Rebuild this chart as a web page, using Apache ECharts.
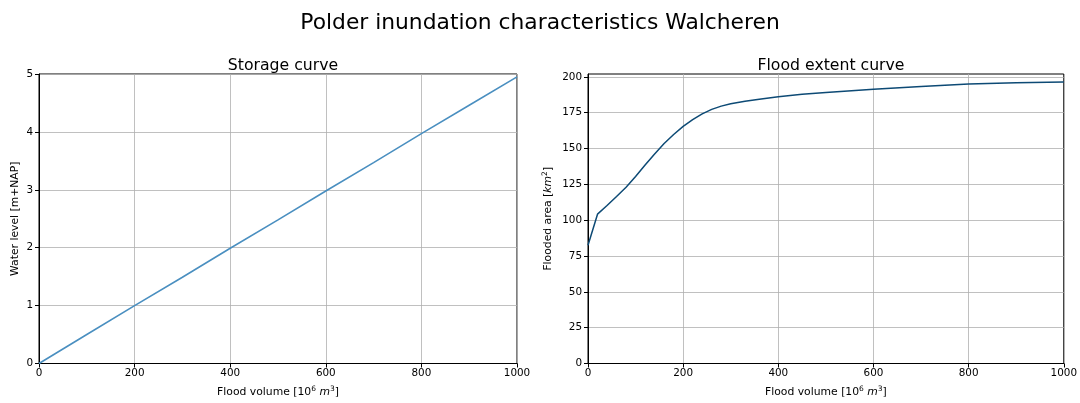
<!DOCTYPE html>
<html>
<head>
<meta charset="utf-8">
<script src="https://cdn.jsdelivr.net/npm/echarts@6/dist/echarts.min.js"></script>
<style>
  html, body { margin: 0; padding: 0; background: #fff; }
  #chart { width: 1080px; height: 403px; }
</style>
</head>
<body>
<div id="chart"></div>
<script>
// storage curve: volume [10^6 m3] -> water level [m+NAP]
const storageVolume = [0, 100, 200, 300, 400, 500, 600, 700, 800, 900, 1000]
const storageLevel = [0, 0.5, 1.0, 1.49, 1.99, 2.48, 2.98, 3.47, 3.97, 4.46, 4.95]

// flood extent curve: volume [10^6 m3] -> flooded area [km2]
const extentVolume = [0, 20, 40, 60, 80, 100, 120, 140, 160, 180, 200, 220, 240, 260, 280, 300, 330, 360, 400, 450, 500, 600, 700, 800, 900, 1000]
const extentArea = [82.5, 104.2, 110.2, 116.5, 123, 130.5, 138.5, 146.2, 153.5, 159.8, 165.5, 170.2, 174.2, 177.3, 179.6, 181.3, 183, 184.4, 186.2, 187.8, 189.1, 191.4, 193.3, 195, 195.9, 196.5]

const xTicks = [0, 200, 400, 600, 800, 1000]
const levelTicks = [0, 1, 2, 3, 4, 5]
const areaTicks = [0, 25, 50, 75, 100, 125, 150, 175, 200]

const font = 'DejaVu Sans'
const tickSize = 10.4
const nameSize = 10.8
const gridLine = { show: true, lineStyle: { color: '#b0b0b0', width: 0.8 } }

function pairs(xs, ys) {
  return xs.map((x, i) => [x, ys[i]])
}

const supRich = {
  t: { fontFamily: font, fontSize: nameSize, color: '#000' },
  i: { fontFamily: font, fontSize: nameSize, fontStyle: 'italic', color: '#000' },
  s: { fontFamily: font, fontSize: 7.5, color: '#000', verticalAlign: 'top', padding: [0, 0, 6, 0] }
}

function xAxis(gridIndex) {
  return {
    type: 'value',
    gridIndex: gridIndex,
    min: 0,
    max: 1000,
    interval: 200,
    name: '{t|Flood volume [10}{s|6}{t| }{i|m}{s|3}{t|]}',
    nameLocation: 'middle',
    nameGap: 22,
    nameTextStyle: { rich: supRich },
    axisLine: { show: true, lineStyle: { color: '#000', width: 1 } },
    axisTick: { show: true, length: 4, customValues: xTicks, lineStyle: { color: '#000' } },
    axisLabel: { fontFamily: font, fontSize: tickSize, color: '#000', margin: 5, customValues: xTicks,
      formatter: v => String(v) },
    splitLine: gridLine
  }
}

const chart = echarts.init(document.getElementById('chart'))
chart.setOption({
  animation: false,
  title: [
    { text: 'Polder inundation characteristics Walcheren', left: 'center', top: 7,
      textStyle: { fontFamily: font, fontSize: 21.8, fontWeight: 'normal', color: '#000' } },
    { text: 'Storage curve', left: 278, top: 53, textAlign: 'center',
      textStyle: { fontFamily: font, fontSize: 15.7, fontWeight: 'normal', color: '#000' } },
    { text: 'Flood extent curve', left: 826, top: 53, textAlign: 'center',
      textStyle: { fontFamily: font, fontSize: 15.7, fontWeight: 'normal', color: '#000' } }
  ],
  grid: [
    { left: 39, right: 563, top: 74, bottom: 38, show: true, borderColor: '#000', borderWidth: 1 },
    { left: 588, right: 15, top: 74, bottom: 38, show: true, borderColor: '#000', borderWidth: 1 }
  ],
  xAxis: [xAxis(0), xAxis(1)],
  yAxis: [
    {
      type: 'value', gridIndex: 0, min: 0, max: 5, interval: 1,
      name: 'Water level [m+NAP]', nameLocation: 'middle', nameGap: 18,
      nameTextStyle: { fontFamily: font, fontSize: nameSize, color: '#000' },
      axisLine: { show: true, lineStyle: { color: '#000', width: 1 } },
      axisTick: { show: true, length: 4, customValues: levelTicks, lineStyle: { color: '#000' } },
      axisLabel: { fontFamily: font, fontSize: tickSize, color: '#000', margin: 6, customValues: levelTicks },
      splitLine: gridLine
    },
    {
      type: 'value', gridIndex: 1, min: 0, max: 202, interval: 25,
      name: '{t|Flooded area [}{i|km}{s|2}{t|]}', nameLocation: 'middle', nameGap: 33,
      nameTextStyle: { rich: supRich },
      axisLine: { show: true, lineStyle: { color: '#000', width: 1 } },
      axisTick: { show: true, length: 4, customValues: areaTicks, lineStyle: { color: '#000' } },
      axisLabel: { fontFamily: font, fontSize: tickSize, color: '#000', margin: 6, customValues: areaTicks },
      splitLine: gridLine
    }
  ],
  series: [
    {
      type: 'line', xAxisIndex: 0, yAxisIndex: 0, showSymbol: false,
      data: pairs(storageVolume, storageLevel),
      lineStyle: { color: '#4a8fc0', width: 1.6 }
    },
    {
      type: 'line', xAxisIndex: 1, yAxisIndex: 1, showSymbol: false,
      data: pairs(extentVolume, extentArea),
      lineStyle: { color: '#0d4a75', width: 1.5 }
    }
  ]
})
</script>
</body>
</html>
